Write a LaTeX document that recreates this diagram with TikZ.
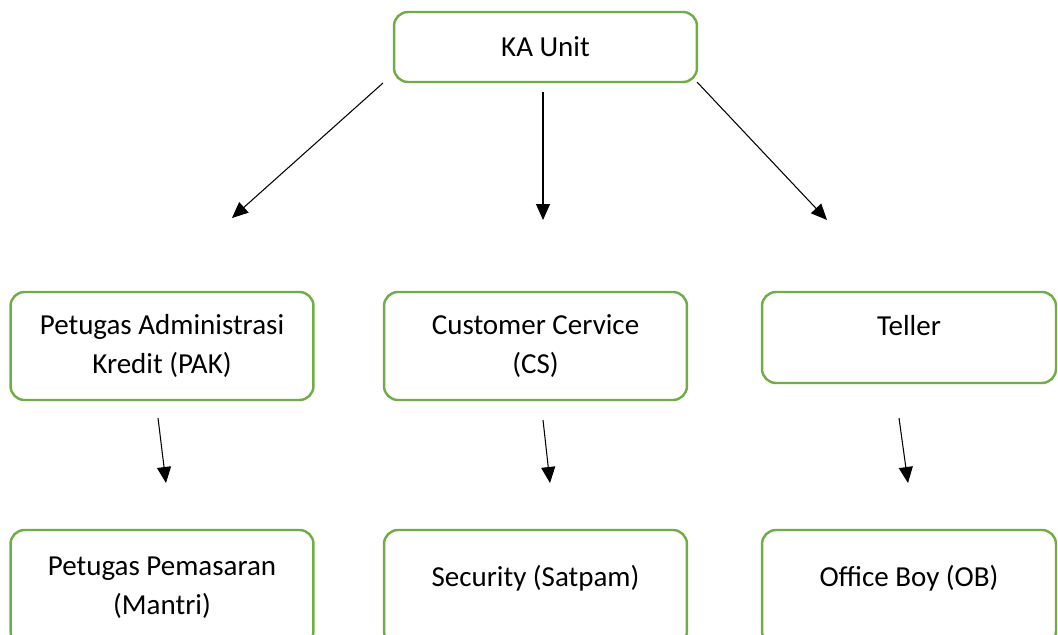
\documentclass[tikz,border=0pt]{standalone}
\usepackage{fontspec}
\setmainfont{Carlito}
\usepackage{xcolor}
\usetikzlibrary{arrows.meta}
\definecolor{unitgreen}{RGB}{112,173,71}

\begin{document}
\begin{tikzpicture}[
    x=0.02cm, y=-0.02cm,
    unit/.style={draw=unitgreen, line width=1.4pt, rounded corners=0.28cm, minimum width=6.06cm, align=center, font=\fontsize{16.5}{22}\selectfont},
    toptext/.style={text depth=0.48cm},
    arrow/.style={-{Triangle[length=0.32cm, width=0.28cm]}, line width=0.6pt}
]

\useasboundingbox (0,0) rectangle (1058,635);

\node[unit, minimum height=1.4cm] (ka) at (545.5,47) {KA Unit};

\node[unit, minimum height=2.16cm] (pak) at (162,346) {Petugas Administrasi\\Kredit (PAK)};
\node[unit, minimum height=2.16cm] (cs) at (535.5,346) {Customer Cervice\\(CS)};
\node[unit, toptext, minimum width=5.88cm, minimum height=1.82cm] (teller) at (909,337.5) {Teller};

\node[unit, minimum height=2.3cm] (mantri) at (162,587.5) {Petugas Pemasaran\\(Mantri)};
\node[unit, toptext, minimum height=2.3cm] (satpam) at (535.5,587.5) {Security (Satpam)};
\node[unit, toptext, minimum width=5.88cm, minimum height=2.3cm] (ob) at (909,587.5) {Office Boy (OB)};

\coordinate (ka1) at (383,83);   \coordinate (pak1) at (232,218);
\coordinate (ka2) at (543,92);   \coordinate (cs1) at (543,220);
\coordinate (ka3) at (697,82);   \coordinate (teller1) at (827,220);
\coordinate (pak2) at (158,418); \coordinate (mantri1) at (166,483);
\coordinate (cs2) at (543,420);  \coordinate (satpam1) at (550,483);
\coordinate (teller2) at (899,418); \coordinate (ob1) at (908,483);

\draw[arrow] (ka1) -- (pak1);
\draw[arrow] (ka2) -- (cs1);
\draw[arrow] (ka3) -- (teller1);
\draw[arrow] (pak2) -- (mantri1);
\draw[arrow] (cs2) -- (satpam1);
\draw[arrow] (teller2) -- (ob1);

\end{tikzpicture}
\end{document}
